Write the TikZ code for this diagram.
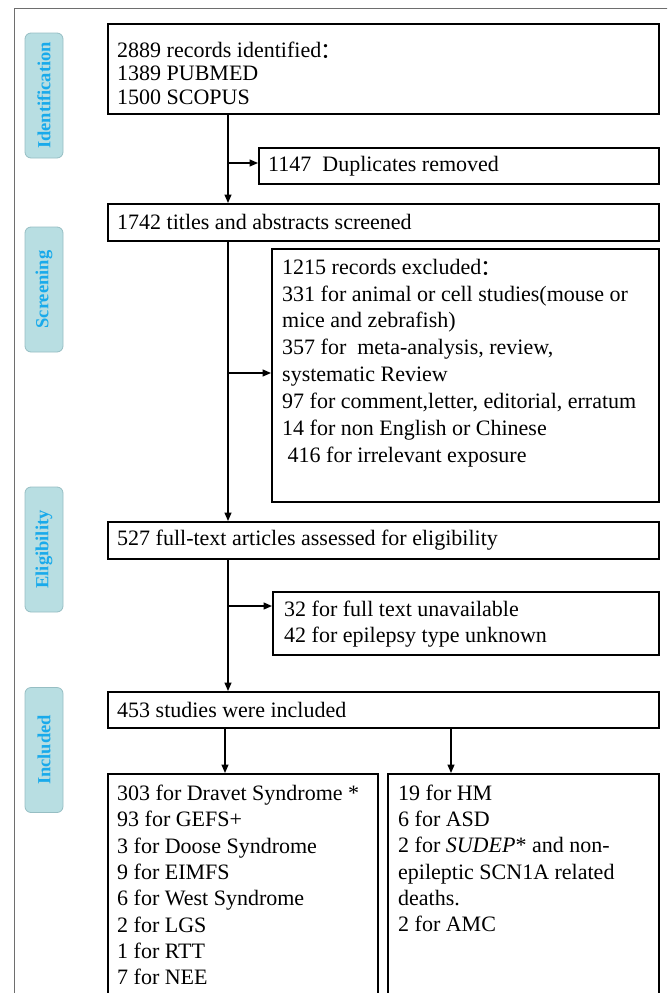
\documentclass[tikz,border=0pt]{standalone}
\usepackage{fontspec}
\setmainfont{Liberation Serif}
\newfontfamily\cjk{Noto Sans CJK SC}
\usetikzlibrary{arrows.meta}
\definecolor{lblfill}{RGB}{184,222,226}
\definecolor{lbldraw}{RGB}{150,190,195}
\definecolor{lbltext}{RGB}{25,170,235}
\definecolor{framegray}{RGB}{110,110,110}
\newcommand{\fwcolon}{{\cjk\hspace{-1pt}\raisebox{-1.5pt}{：}}}
\tikzset{
  box/.style={draw=black, line width=1.5pt, anchor=north west, inner sep=0pt},
  txt/.style={anchor=west, align=left, inner sep=0pt, font=\fontsize{22}{26.5}\selectfont},
  phase/.style={draw=lbldraw, fill=lblfill, line width=0.8pt, rounded corners=6pt,
    minimum width=125pt, minimum height=38pt, inner sep=0pt, rotate=90,
    text=lbltext, font=\fontsize{18.5}{20}\selectfont\bfseries},
  arr/.style={line width=1.4pt, -{Triangle[length=8.5pt,width=7pt]}},
  frameline/.style={draw=framegray, line width=1pt}
}
\begin{document}
\begin{tikzpicture}[x=1pt,y=-1pt]
\useasboundingbox (0,0) rectangle (667,993);
\clip (0,0) rectangle (667,993);
% outer frame
\draw[frameline] (680,8) -- (14,8) -- (14,1000);
% phase labels
\node[phase] (pid) at (44,95.5) {Identification};
\node[phase] (pscr) at (44,289.5) {Screening};
\node[phase] (pel) at (44,549.5) {Eligibility};
\node[phase] (pinc) at (44,750) {Included};
% boxes
\node[box, minimum width=551pt, minimum height=90pt] (b1) at (107,23) {};
\node[txt, font=\fontsize{22}{23.5}\selectfont] (t1) at (117,73) {2889 records identified\fwcolon\\1389 PUBMED\\1500 SCOPUS};
\node[box, minimum width=400pt, minimum height=36pt] (dup) at (258,147) {};
\node[txt] (tdup) at (268,166) {1147\ \ Duplicates removed};
\node[box, minimum width=551pt, minimum height=37pt] (b2) at (107,203) {};
\node[txt] (t2) at (117,222) {1742 titles and abstracts screened};
\node[box, minimum width=387pt, minimum height=253pt] (excl) at (271,248) {};
\node[txt, font=\fontsize{22}{26.9}\selectfont] (texcl) at (282,363) {1215 records excluded\fwcolon\\
331 for animal or cell studies(mouse or\\
mice and zebrafish)\\
357 for\ \ meta-analysis, review,\\
systematic Review\\
97 for comment,letter, editorial, erratum\\
14 for non English or Chinese\\
\ 416 for irrelevant exposure};
\node[box, minimum width=551pt, minimum height=37pt] (b3) at (107,521) {};
\node[txt] (t3) at (117,540) {527 full-text articles assessed for eligibility};
\node[box, minimum width=386pt, minimum height=63pt] (ee) at (272,591) {};
\node[txt] (tee) at (284,624) {32 for full text unavailable\\42 for epilepsy type unknown};
\node[box, minimum width=551pt, minimum height=36pt] (b4) at (107,691) {};
\node[txt] (t4) at (117,710) {453 studies were included};
\node[box, minimum width=270pt, minimum height=240pt] (lbox) at (107,773) {};
\node[txt, font=\fontsize{22}{26.3}\selectfont] (tl) at (117,885) {303 for Dravet Syndrome *\\
93 for GEFS+\\
3 for Doose Syndrome\\
9 for EIMFS\\
6 for West Syndrome\\
2 for LGS\\
1 for RTT\\
7 for NEE};
\node[box, minimum width=271pt, minimum height=240pt] (rbox) at (387,773) {};
\node[txt, font=\fontsize{22}{26.3}\selectfont] (tr) at (398,858.5) {19 for HM\\
6 for ASD\\
2 for \textit{SUDEP}* and non-\\
epileptic SCN1A related\\
deaths.\\
2 for AMC};
% connectors
\coordinate (mx) at (228,0);
\coordinate (lx) at (225,0);
\coordinate (rx) at (451,0);
\coordinate (j1) at (228,163);
\coordinate (j2) at (228,373);
\coordinate (j3) at (228,606);
\draw[arr] (b1.south -| mx) -- (b2.north -| mx);
\draw[arr] (j1) -- (j1 -| dup.west);
\draw[arr] (b2.south -| mx) -- (b3.north -| mx);
\draw[arr] (j2) -- (j2 -| excl.west);
\draw[arr] (b3.south -| mx) -- (b4.north -| mx);
\draw[arr] (j3) -- (j3 -| ee.west);
\draw[arr] (b4.south -| lx) -- (lbox.north -| lx);
\draw[arr] (b4.south -| rx) -- (rbox.north -| rx);
\end{tikzpicture}
\end{document}
